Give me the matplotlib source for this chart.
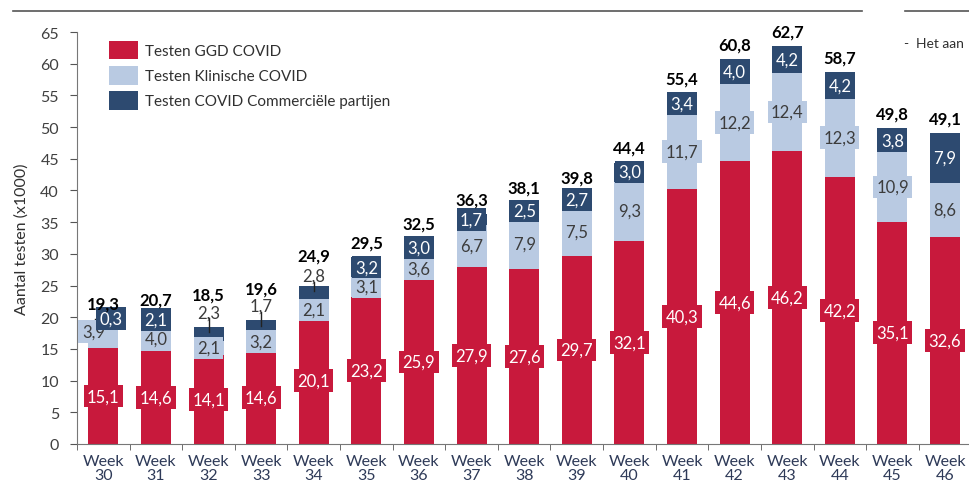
import matplotlib.pyplot as plt
import numpy as np

plt.rcParams['font.family'] = ['Lato', 'DejaVu Sans']

weeks = ['30', '31', '32', '33', '34', '35', '36', '37', '38', '39', '40',
         '41', '42', '43', '44', '45', '46']
ggd = [15.1, 14.6, 14.1, 14.6, 20.1, 23.2, 25.9, 27.9, 27.6, 29.7, 32.1,
       40.3, 44.6, 46.2, 42.2, 35.1, 32.6]
klinisch = [3.9, 4.0, 2.1, 3.2, 2.1, 3.1, 3.6, 6.7, 7.9, 7.5, 9.3,
            11.7, 12.2, 12.4, 12.3, 10.9, 8.6]
commercieel = [0.3, 2.1, 2.3, 1.7, 2.8, 3.2, 3.0, 1.7, 2.5, 2.7, 3.0,
               3.4, 4.0, 4.2, 4.2, 3.8, 7.9]
totaal = [19.3, 20.7, 18.5, 19.6, 24.9, 29.5, 32.5, 36.3, 38.1, 39.8, 44.4,
          55.4, 60.8, 62.7, 58.7, 49.8, 49.1]

red = '#c8193c'
light = '#b9cae2'
dark = '#2d4a70'

def fmt(v):
    return f'{v:.1f}'.replace('.', ',')

fig = plt.figure(figsize=(9.7, 4.89), dpi=100)
ax = fig.add_axes([0.0794, 0.090, 0.922, 0.8425])

x = np.arange(len(weeks))
w = 0.57
ggd_a = np.array(ggd)
kl_a = np.array(klinisch)
co_a = np.array(commercieel)

ax.bar(x, ggd_a, w, color=red, label='Testen GGD COVID')
ax.bar(x, kl_a, w, bottom=ggd_a, color=light, label='Testen Klinische COVID')
ax.bar(x, co_a, w, bottom=ggd_a + kl_a, color=dark,
       label='Testen COVID Commerciële partijen')

fs = 12
for i in range(len(weeks)):
    # GGD labels
    ax.text(x[i], ggd[i] / 2, fmt(ggd[i]), ha='center', va='center',
            color='white', fontsize=fs,
            bbox=dict(boxstyle='square,pad=0.2', fc=red, ec='none'))
    # klinisch labels
    kx = x[i] - 0.19 if i == 0 else x[i]
    ky = ggd[i] + klinisch[i] / 2
    if i == 0:
        ky = 17.7
    ax.text(kx, ky, fmt(klinisch[i]), ha='center', va='center',
            color='#3c3c3c', fontsize=fs,
            bbox=dict(boxstyle='square,pad=0.2', fc=light, ec='none'))
    # commercieel labels
    top = ggd[i] + klinisch[i] + commercieel[i]
    if i in (2, 3, 4):
        ly = {2: 20.8, 3: 21.8, 4: 26.6}[i]
        ax.plot([x[i], x[i]], [top - 0.9, ly - 1.0], color='#222222', lw=1)
        ax.text(x[i], ly, fmt(commercieel[i]), ha='center', va='center',
                color='#3c3c3c', fontsize=fs)
    else:
        cx = x[i] + 0.15 if i == 0 else x[i]
        cy = 19.8 if i == 0 else ggd[i] + klinisch[i] + commercieel[i] / 2
        if i == 0:
            ax.plot([x[i] - 0.15, x[i] + 0.05], [19.7, 19.7], color='#222222', lw=1)
        ax.text(cx, cy, fmt(commercieel[i]), ha='center', va='center',
                color='white', fontsize=fs,
                bbox=dict(boxstyle='square,pad=0.2', fc=dark, ec='none'))
    # totals
    ty = {0: 22.1, 1: 22.8, 2: 23.6, 3: 24.5, 4: 29.7}.get(i, totaal[i] + 2.3)
    ax.text(x[i], ty, fmt(totaal[i]), ha='center', va='center',
            color='black', fontsize=fs, fontweight='bold')

ax.set_xlim(-0.5, len(weeks) - 0.5)
ax.set_ylim(0, 65)
ax.set_yticks(range(0, 66, 5))
ax.set_xticks(x)
ax.set_xticklabels(['Week\n' + wk for wk in weeks], color='#2e3a58',
                   fontsize=11.5, linespacing=1.0)
ax.set_xticks(np.arange(-0.5, len(weeks), 1), minor=True)
ax.tick_params(axis='x', which='major', length=0, pad=7)
ax.tick_params(axis='x', which='minor', length=4, color='#555555')
ax.tick_params(axis='y', length=5, color='#555555', labelcolor='#404040',
               labelsize=11.5, pad=8)
for s in ('top', 'right'):
    ax.spines[s].set_visible(False)
ax.spines['left'].set_color('#777777')
ax.spines['bottom'].set_color('#777777')
ax.set_ylabel('Aantal testen (x1000)', fontsize=11.5, color='#303030', labelpad=8)

ax.legend(loc='upper left', bbox_to_anchor=(0.02, 1.012), frameon=False,
          fontsize=11, handlelength=1.9, handleheight=1.5,
          labelspacing=0.42, handletextpad=0.5, labelcolor='#303030')

# header rules and side note text
fig.add_artist(plt.Line2D([13 / 970, 862 / 970], [1 - 12 / 489] * 2,
                          color='#555555', lw=1.2))
fig.add_artist(plt.Line2D([905 / 970, 1.0], [1 - 12 / 489] * 2,
                          color='#555555', lw=1.2))
fig.text(903 / 970, 1 - 44 / 489, '-', fontsize=10, va='center', color='#303030')
fig.text(916 / 970, 1 - 44 / 489, 'Het aan', fontsize=10, va='center',
         color='#303030')

fig.savefig('out.png', dpi=100)
